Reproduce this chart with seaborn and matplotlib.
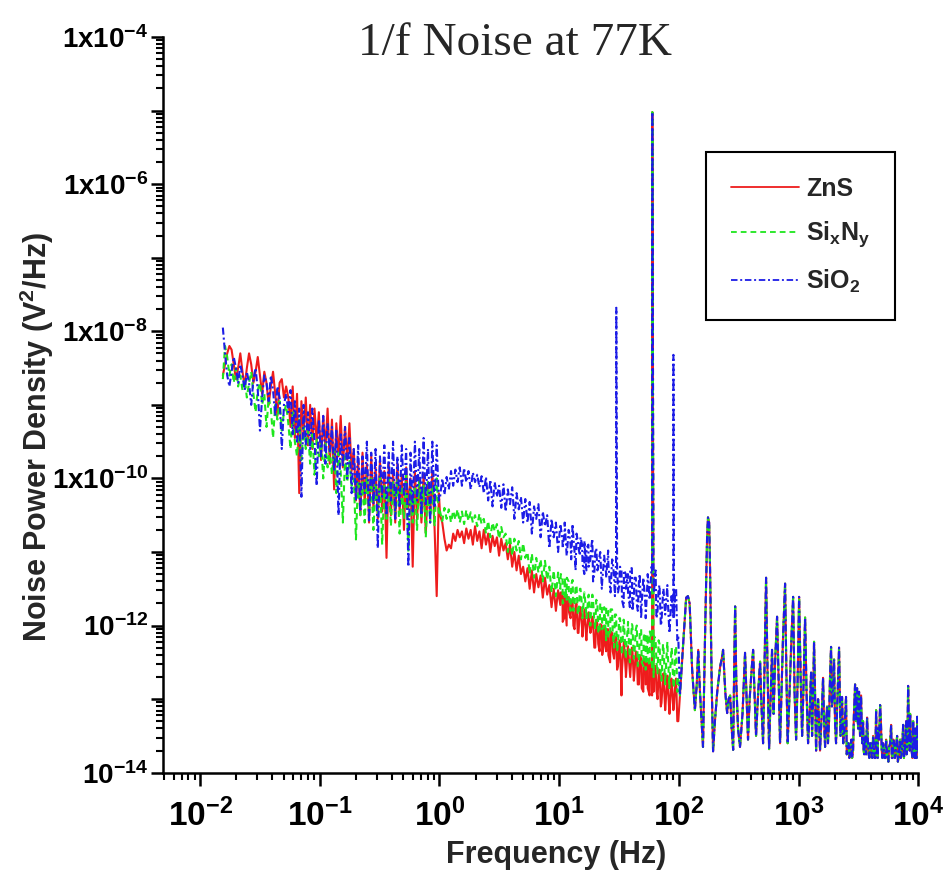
import numpy as np
import pandas as pd
import matplotlib
matplotlib.use("Agg")
import matplotlib.pyplot as plt
import matplotlib.ticker as mticker
from matplotlib.lines import Line2D
import seaborn as sns

# ------------------------------------------------------------------ data
SERIES = ["ZnS", "SixNy", "SiO2"]
LEGEND_LABELS = ["ZnS", r"Si$_\mathbf{x}$N$_\mathbf{y}$", r"SiO$_\mathbf{2}$"]
COLORS = ["#ee1c1c", "#1ee61e", "#1c1ce6"]

# analyser frequency-bin spans (Hz) for the low-frequency records
LF_RANGE = (0.0155, 0.9886)
MF_RANGE = (1.0116, 98.86)
HI_RANGE = (10.3, 97.0)     # extra bins of the 10-100 Hz record

# log10(noise power density, V^2/Hz)
ZNS_LF = [-8.6, -8.45, -8.3, -8.2, -8.25, -8.45, -8.65, -8.5, -8.3, -8.55,
          -8.75, -8.5, -8.3, -8.45, -8.7, -8.55, -8.35, -8.6, -8.85, -8.55,
          -8.7, -9.0, -8.75, -8.55, -8.85, -9.15, -8.7, -8.65, -8.9, -8.75,
          -8.9, -9.3, -8.75, -9.45, -8.85, -10.2, -8.95, -9.4, -8.9, -9.55,
          -9.0, -9.6, -9.05, -9.5, -9.1, -9.75, -9.15, -9.6, -9.05, -9.8,
          -9.2, -10.15, -9.25, -9.7, -9.15, -9.85, -9.3, -9.75, -9.25, -9.9,
          -9.6, -10.3, -9.75, -10.5, -9.65, -10.35, -9.8, -10.6, -9.7, -10.4,
          -9.85, -10.55, -9.75, -10.45, -9.9, -11.08, -9.8, -10.5, -9.9, -10.6,
          -9.8, -10.45, -9.95, -10.7, -9.85, -10.4, -10.0, -11.2, -9.9, -10.55,
          -10.0, -10.6, -9.95, -10.75, -10.05, -10.5, -9.9, -10.65, -11.6, -10.2]
SIXNY_LF = [-8.65, -8.2, -8.35, -8.6, -8.45, -8.7, -8.5, -8.75, -8.6, -8.8,
            -8.65, -8.9, -8.7, -8.55, -8.85, -9.1, -8.8, -8.7, -9.0, -8.85,
            -9.3, -8.9, -9.05, -9.45, -9.0, -9.2, -8.95, -9.35, -9.1, -9.0,
            -9.25, -9.6, -9.1, -9.5, -9.7, -9.2, -9.75, -9.3, -9.6, -9.35,
            -9.8, -9.4, -9.95, -9.45, -9.7, -9.5, -10.0, -9.5, -9.85, -9.6,
            -9.95, -9.6, -10.2, -9.65, -9.9, -10.6, -9.7, -10.05, -9.75, -10.1,
            -10.0, -10.83, -9.95, -10.5, -10.05, -10.6, -9.9, -10.45, -10.0, -10.7,
            -10.05, -10.5, -9.95, -10.9, -10.1, -10.55, -10.0, -10.65, -10.05, -10.5,
            -10.0, -10.75, -10.1, -10.55, -9.95, -11.0, -10.05, -10.6, -10.1, -10.7,
            -10.0, -10.55, -10.1, -10.8, -10.05, -10.6, -10.1, -10.65, -10.0, -10.5]
SIO2_LF = [-7.95, -8.3, -8.6, -8.75, -8.55, -8.35, -8.5, -8.7, -8.45, -8.6,
           -8.8, -8.55, -8.7, -9.0, -8.65, -8.5, -8.8, -9.35, -8.9, -8.6,
           -8.7, -8.95, -8.6, -8.8, -9.15, -8.75, -8.9, -9.6, -9.0, -8.85,
           -9.1, -8.8, -9.4, -8.95, -9.5, -9.05, -10.25, -9.0, -9.55, -9.1,
           -9.6, -9.05, -9.5, -10.1, -9.2, -9.7, -9.15, -9.8, -9.25, -9.65,
           -9.3, -9.9, -9.35, -10.5, -9.4, -9.85, -9.3, -10.0, -9.45, -10.2,
           -9.6, -10.3, -9.55, -10.45, -9.7, -10.2, -9.5, -10.6, -9.65, -10.35,
           -9.6, -10.95, -9.7, -10.25, -9.55, -10.5, -9.65, -10.3, -9.5, -10.55,
           -9.7, -10.4, -9.55, -10.25, -9.6, -11.2, -9.65, -10.45, -9.5, -10.3,
           -9.6, -10.5, -9.45, -10.35, -9.6, -10.6, -9.5, -10.4, -9.55, -10.3]

ZNS_MF = [-10.5, -10.6, -10.82, -10.98, -10.9, -10.95, -10.75, -10.85, -10.7, -10.8,
          -10.72, -10.88, -10.68, -10.82, -10.7, -10.9, -10.65, -10.85, -10.72, -10.95,
          -10.7, -10.9, -10.75, -11.0, -10.78, -10.92, -10.8, -11.05, -10.82, -10.98,
          -10.88, -11.1, -10.9, -11.2, -11.0, -11.25, -11.05, -11.3, -11.2, -11.4,
          -11.22, -11.5, -11.25, -11.55, -11.3, -11.48, -11.32, -11.62, -11.35, -11.58,
          -11.45, -11.75, -11.5, -11.8, -11.52, -11.72, -11.55, -11.88, -11.6, -11.82,
          -11.7, -12.0, -11.72, -12.1, -11.75, -12.05, -11.8, -12.15, -11.82, -12.08,
          -11.95, -12.3, -11.98, -12.35, -12.0, -12.25, -12.05, -12.4, -12.08, -12.35,
          -12.2, -12.6, -12.22, -12.95, -12.25, -12.65, -12.3, -12.7, -12.32, -12.62,
          -12.4, -12.8, -12.45, -12.9, -12.48, -12.85, -12.5, -12.95, -12.55, -12.88,
          -12.65, -13.1, -12.7, -13.15, -12.68, -13.2, -12.75, -13.1, -12.72, -13.3]
SIXNY_MF = [-10.45, -10.58, -10.4, -10.55, -10.42, -10.6, -10.44, -10.56, -10.42, -10.6,
            -10.45, -10.62, -10.43, -10.58, -10.46, -10.6, -10.5, -10.65, -10.48, -10.62,
            -10.55, -10.75, -10.58, -10.8, -10.6, -10.72, -10.62, -10.82, -10.66, -10.8,
            -10.75, -11.0, -10.78, -11.05, -10.82, -10.98, -10.85, -11.1, -10.88, -11.08,
            -11.0, -11.3, -11.02, -11.35, -11.08, -11.28, -11.1, -11.4, -11.12, -11.38,
            -11.2, -11.55, -11.25, -11.6, -11.28, -11.5, -11.32, -11.65, -11.35, -11.62,
            -11.45, -11.8, -11.48, -11.85, -11.5, -11.75, -11.55, -11.9, -11.58, -11.85,
            -11.65, -12.05, -11.7, -12.1, -11.72, -12.0, -11.75, -12.15, -11.78, -12.1,
            -11.85, -12.35, -11.9, -12.3, -11.92, -12.45, -11.95, -12.4, -12.0, -12.35,
            -12.0, -12.5, -12.05, -12.55, -12.1, -12.45, -12.08, -12.6, -12.15, -12.5,
            -12.2, -12.7, -12.25, -12.8, -12.22, -12.75, -12.3, -12.85, -12.28, -12.7]
SIO2_MF = [-10.25, -10.0, -10.22, -9.98, -10.15, -9.9, -10.1, -9.88, -10.05, -9.85,
           -10.1, -9.86, -10.05, -9.9, -10.15, -9.92, -10.05, -9.95, -10.12, -9.97,
           -10.2, -9.98, -10.3, -10.02, -10.38, -10.05, -10.25, -10.1, -10.4, -10.08,
           -10.45, -10.15, -10.35, -10.12, -10.55, -10.2, -10.42, -10.25, -10.6, -10.28,
           -10.6, -10.32, -10.75, -10.38, -10.55, -10.35, -10.8, -10.45, -10.65, -10.5,
           -10.95, -10.55, -10.8, -10.6, -11.0, -10.62, -10.85, -10.7, -11.05, -10.72,
           -11.1, -10.8, -11.25, -10.85, -11.05, -10.9, -11.3, -10.95, -11.2, -10.98,
           -11.4, -11.0, -11.25, -11.05, -11.5, -11.1, -11.35, -11.15, -11.55, -11.12,
           -11.6, -11.2, -11.45, -11.25, -11.75, -11.3, -11.55, -11.22, -11.8, -11.35,
           -11.7, -11.4, -11.9, -11.35, -11.75, -11.3, -11.6, -11.25, -11.5, -11.9,
           -11.5, -12.0, -11.55, -11.85, -11.45, -12.1, -11.6, -11.9, -11.5, -12.15]

ZNS_HI = [-11.55, -11.95, -11.6, -12.0, -11.62, -11.9, -11.65, -12.05, -11.7, -12.1,
          -11.75, -12.15, -11.78, -12.2, -11.85, -12.1, -11.88, -12.3, -11.92, -12.25,
          -11.98, -12.4, -12.0, -12.35, -12.05, -12.5, -12.1, -12.45, -12.15, -12.55,
          -12.2, -12.6, -12.22, -12.7, -12.28, -12.65, -12.3, -12.75, -12.35, -12.8,
          -12.4, -12.85, -12.45, -12.8, -12.5, -12.95, -12.52, -12.9, -12.55, -13.0,
          -12.6, -13.05, -12.65, -13.1, -12.7, -13.2, -12.72, -13.15, -12.75, -13.3]
SIXNY_HI = [-11.3, -11.7, -11.35, -11.65, -11.4, -11.8, -11.38, -11.72, -11.45, -11.85,
            -11.5, -11.9, -11.55, -11.85, -11.6, -12.0, -11.58, -11.95, -11.65, -12.1,
            -11.7, -12.05, -11.75, -12.2, -11.8, -12.15, -11.78, -12.3, -11.85, -12.25,
            -11.9, -12.4, -11.95, -12.35, -12.0, -12.5, -11.98, -12.45, -12.05, -12.55,
            -12.1, -12.5, -12.15, -12.6, -12.12, -12.55, -12.2, -12.7, -12.18, -12.65,
            -12.25, -12.75, -12.3, -12.7, -12.28, -12.85, -12.35, -12.8, -12.3, -12.9]
SIO2_HI = [-10.65, -10.95, -10.6, -11.05, -10.7, -10.9, -10.62, -11.0, -10.75, -10.95,
           -10.8, -11.15, -10.85, -11.25, -10.9, -11.1, -10.82, -11.3, -10.95, -11.2,
           -11.0, -11.4, -11.05, -11.3, -10.98, -11.5, -11.1, -11.35, -11.15, -11.55,
           -11.2, -11.65, -11.25, -11.5, -11.3, -11.75, -11.22, -11.6, -11.35, -11.8,
           -11.3, -11.7, -11.4, -11.9, -11.35, -11.65, -11.2, -11.55, -11.25, -11.8,
           -11.45, -11.95, -11.5, -11.8, -11.55, -12.1, -11.6, -11.9, -11.5, -12.2]

# mains-pickup spikes (Hz, log10 V^2/Hz)
SIO2_SPIKE_F = [30.0, 60.0, 90.0]
SIO2_SPIKE_LOG = [-7.68, -5.02, -8.32]
SIXNY_SPIKE_F = [60.0]
SIXNY_SPIKE_LOG = [-5.02]
ZNS_SPIKE_F = [60.0]
ZNS_SPIKE_LOG = [-5.02]

# above 100 Hz the three records coincide
HF_FREQ = [102, 108, 115, 119, 123, 129, 136, 141, 145, 150,
           159, 166, 172, 175, 179, 182, 188, 193, 200, 209,
           221, 228, 234, 244, 253, 260, 268, 276, 284, 290,
           295, 302, 312, 324, 340, 352, 357, 366, 378, 390,
           405, 417, 428, 441, 460, 477, 490, 505, 520, 535,
           550, 567, 583, 600, 618, 636, 661, 685, 700, 714,
           740, 771, 790, 810, 833, 870, 900, 925, 953, 980,
           1010, 1040, 1070, 1100, 1133, 1165, 1200, 1235, 1271, 1296,
           1321, 1346, 1372, 1400, 1426, 1455, 1482, 1510, 1540, 1570,
           1601, 1632, 1664, 1700, 1729, 1760, 1796, 1830, 1867, 1900,
           1940, 1978, 2015, 2055, 2100, 2140, 2178, 2240, 2307, 2360,
           2420, 2491, 2560, 2620, 2690, 2760, 2850, 2900, 2963, 3020,
           3079, 3140, 3200, 3260, 3326, 3400, 3457, 3530, 3593, 3734,
           3850, 3956, 4080, 4191, 4320, 4440, 4530, 4616, 4797, 4950,
           5082, 5230, 5384, 5550, 5704, 5929, 6100, 6282, 6470, 6655,
           6850, 7050, 7250, 7470, 7700, 7913, 8080, 8224, 8390, 8547,
           8800, 9055, 9230, 9410, 9600, 9780, 9950]
HF_LOG = [-12.95, -12.3, -11.62, -11.6, -11.7, -12.6, -13.15, -12.8, -12.33, -12.9,
          -13.65, -12.0, -10.8, -10.53, -10.6, -11.2, -12.8, -13.71, -13.3, -12.9,
          -12.56, -12.45, -12.33, -12.9, -13.19, -13.0, -12.95, -13.4, -13.69, -12.5,
          -11.74, -12.8, -13.4, -13.65, -13.2, -12.6, -12.37, -12.9, -13.55, -13.0,
          -12.6, -12.33, -12.9, -13.5, -12.9, -12.49, -13.1, -13.6, -12.5, -11.35,
          -12.6, -13.68, -13.0, -12.33, -13.2, -12.5, -11.88, -12.9, -13.6, -13.1,
          -12.2, -11.43, -12.6, -13.6, -13.1, -12.2, -11.61, -12.9, -13.55, -12.8,
          -11.61, -12.7, -13.5, -12.8, -11.89, -12.9, -13.6, -13.2, -12.64, -13.5,
          -13.0, -12.22, -12.9, -13.7, -13.2, -13.0, -13.3, -13.7, -13.4, -13.1,
          -12.71, -13.3, -13.65, -13.3, -13.1, -13.6, -13.3, -12.7, -12.29, -13.1,
          -12.9, -12.46, -13.3, -13.6, -13.1, -12.7, -12.3, -13.5, -12.97, -13.6,
          -13.4, -12.97, -13.7, -13.6, -13.75, -13.55, -13.7, -13.2, -12.8, -13.3,
          -12.85, -13.4, -12.9, -13.5, -12.95, -13.6, -13.3, -13.75, -13.6, -13.25,
          -13.75, -13.6, -13.78, -13.5, -13.8, -13.15, -13.7, -13.4, -13.08, -13.7,
          -13.6, -13.8, -13.55, -13.8, -13.65, -13.35, -13.8, -13.6, -13.75, -13.5,
          -13.8, -13.55, -13.75, -13.35, -13.7, -13.3, -13.6, -12.82, -13.5, -13.2,
          -13.7, -13.3, -13.75, -13.4, -13.8, -13.24, -13.7]
# extra bins of the noise floor above 2.5 kHz
FLOOR_FREQ = [2525, 2590, 2655, 2725, 2800, 2875, 2930, 2990, 3050, 3110,
              3170, 3230, 3295, 3365, 3430, 3495, 3560, 3660, 3790, 3900,
              4020, 4130, 4255, 4380, 4485, 4575, 4700, 4870, 5015, 5155,
              5305, 5465, 5625, 5815, 6010, 6190, 6375, 6560, 6750, 6950,
              7150, 7360, 7585, 7805, 7995, 8150, 8305, 8470, 8670, 8925,
              9140, 9320, 9505, 9690, 9860]
FLOOR_LOG = [-13.75, -13.6, -13.8, -13.65, -13.8, -13.45, -13.0, -13.1, -12.95, -13.2,
             -13.0, -13.3, -13.05, -13.35, -13.5, -13.7, -13.5, -13.75, -13.55, -13.8,
             -13.6, -13.8, -13.65, -13.8, -13.5, -13.8, -13.55, -13.3, -13.8, -13.65,
             -13.8, -13.7, -13.85, -13.6, -13.8, -13.55, -13.8, -13.6, -13.85, -13.65,
             -13.8, -13.6, -13.8, -13.55, -13.75, -13.3, -13.2, -13.7, -13.55, -13.8,
             -13.6, -13.8, -13.55, -13.8, -13.45]

# axis ticks / labels
X_TICKS = [1e-2, 1e-1, 1e0, 1e1, 1e2, 1e3, 1e4]
X_TICKLABELS = [r"$10^{-2}$", r"$10^{-1}$", r"$10^{0}$", r"$10^{1}$",
                r"$10^{2}$", r"$10^{3}$", r"$10^{4}$"]
Y_TICKS = [1e-14, 1e-13, 1e-12, 1e-11, 1e-10, 1e-9, 1e-8, 1e-7, 1e-6, 1e-5, 1e-4]
Y_TICKLABELS = [r"$10^{-14}$", "", r"$10^{-12}$", "", r"$1x10^{-10}$", "",
                r"$1x10^{-8}$", "", r"$1x10^{-6}$", "", r"$1x10^{-4}$"]

# ------------------------------------------------------------------ table
lf_freq = np.geomspace(LF_RANGE[0], LF_RANGE[1], len(ZNS_LF))
mf_freq = np.geomspace(MF_RANGE[0], MF_RANGE[1], len(ZNS_MF))
hi_freq = np.geomspace(HI_RANGE[0], HI_RANGE[1], len(ZNS_HI))
parts = {
    "ZnS": (ZNS_LF, ZNS_MF, ZNS_HI, ZNS_SPIKE_F, ZNS_SPIKE_LOG),
    "SixNy": (SIXNY_LF, SIXNY_MF, SIXNY_HI, SIXNY_SPIKE_F, SIXNY_SPIKE_LOG),
    "SiO2": (SIO2_LF, SIO2_MF, SIO2_HI, SIO2_SPIKE_F, SIO2_SPIKE_LOG),
}
frames = []
for name in SERIES:
    lf, mf, hi, sf, sl = parts[name]
    f = np.concatenate([lf_freq, mf_freq, hi_freq, sf, HF_FREQ, FLOOR_FREQ])
    v = np.concatenate([lf, mf, hi, sl, HF_LOG, FLOOR_LOG])
    frames.append(pd.DataFrame({"Frequency": f, "PSD": 10.0 ** v, "Material": name}))
df = pd.concat(frames, ignore_index=True)

# ------------------------------------------------------------------ style
sns.set_theme(style="ticks")
plt.rcParams.update({
    "font.family": ["Liberation Sans", "DejaVu Sans"],
    "font.weight": "bold",
    "mathtext.fontset": "custom",
    "mathtext.rm": "Liberation Sans:bold",
    "mathtext.bf": "Liberation Sans:bold",
    "mathtext.sf": "Liberation Sans:bold",
    "mathtext.it": "Liberation Sans:bold:italic",
    "mathtext.default": "bf",
    "axes.linewidth": 1.8,
    "xtick.major.width": 1.8, "ytick.major.width": 1.8,
    "xtick.minor.width": 1.5, "ytick.minor.width": 1.5,
    "xtick.major.size": 9, "ytick.major.size": 9,
    "xtick.minor.size": 5, "ytick.minor.size": 5,
    "xtick.direction": "out", "ytick.direction": "out",
    "xtick.color": "black", "ytick.color": "black",
    "axes.edgecolor": "black",
})

fig = plt.figure(figsize=(9.45, 8.74), dpi=100)
ax = fig.add_axes([163.3 / 945, 1 - 772.7 / 874, (918.3 - 163.3) / 945, (772.7 - 37) / 874])

DASHES = {"ZnS": "", "SixNy": (3.0, 2.0), "SiO2": (3.4, 1.4, 1.0, 1.4)}
palette = dict(zip(SERIES, COLORS))
sns.lineplot(data=df, x="Frequency", y="PSD", hue="Material", style="Material",
             hue_order=SERIES, style_order=SERIES, palette=palette, dashes=DASHES,
             estimator=None, sort=True, lw=1.5, legend=False, ax=ax)

ax.set_xscale("log")
ax.set_yscale("log")
ax.set_xlim(0.00493, 1e4)
ax.set_ylim(1e-14, 1e-4)
sns.despine(ax=ax)

ax.xaxis.set_major_locator(mticker.FixedLocator(X_TICKS))
ax.xaxis.set_major_formatter(mticker.FixedFormatter(X_TICKLABELS))
ax.xaxis.set_minor_locator(mticker.LogLocator(base=10, subs=np.arange(2, 10), numticks=100))
ax.xaxis.set_minor_formatter(mticker.NullFormatter())
ax.yaxis.set_major_locator(mticker.FixedLocator(Y_TICKS))
ax.yaxis.set_major_formatter(mticker.FixedFormatter(Y_TICKLABELS))
ax.yaxis.set_minor_locator(mticker.LogLocator(base=10, subs=np.arange(2, 10), numticks=100))
ax.yaxis.set_minor_formatter(mticker.NullFormatter())
ax.tick_params(axis="x", which="major", labelsize=24, pad=10)
ax.tick_params(axis="y", which="major", labelsize=20, pad=2)

ax.set_xlabel("Frequency (Hz)", fontsize=22, fontweight="bold")
ax.set_ylabel(r"Noise Power Density (V$^\mathbf{2}$/Hz)", fontsize=22, fontweight="bold")
ax.xaxis.label.set_va("center")
ax.xaxis.set_label_coords((556 - 163.3) / 755, (772.7 - 855) / 735.7)
ax.yaxis.label.set_va("center")
ax.yaxis.set_label_coords((37 - 163.3) / 755, (772.7 - 437) / 735.7)

fig.text(515 / 945, 1 - 55 / 874, "1/f Noise at 77K", ha="center", va="baseline",
         fontsize=34, fontweight="normal", family=["Liberation Serif", "DejaVu Serif"])

handles = [Line2D([], [], color=COLORS[0], lw=1.3, linestyle="-"),
           Line2D([], [], color=COLORS[1], lw=1.3, dashes=(3.2, 2.2)),
           Line2D([], [], color=COLORS[2], lw=1.3, dashes=(3.6, 1.5, 1.1, 1.5))]
leg = ax.legend(handles, LEGEND_LABELS, loc="upper left",
                bbox_to_anchor=((706 - 163.3) / 755, (772.7 - 152) / 735.7),
                prop={"weight": "bold", "size": 18}, frameon=True, fancybox=False,
                framealpha=1, edgecolor="black", borderpad=1.0, labelspacing=0.75,
                handlelength=2.7, handletextpad=0.3, borderaxespad=0)
leg.get_frame().set_linewidth(1.5)

fig.savefig("out.png", dpi=100, facecolor="white")
